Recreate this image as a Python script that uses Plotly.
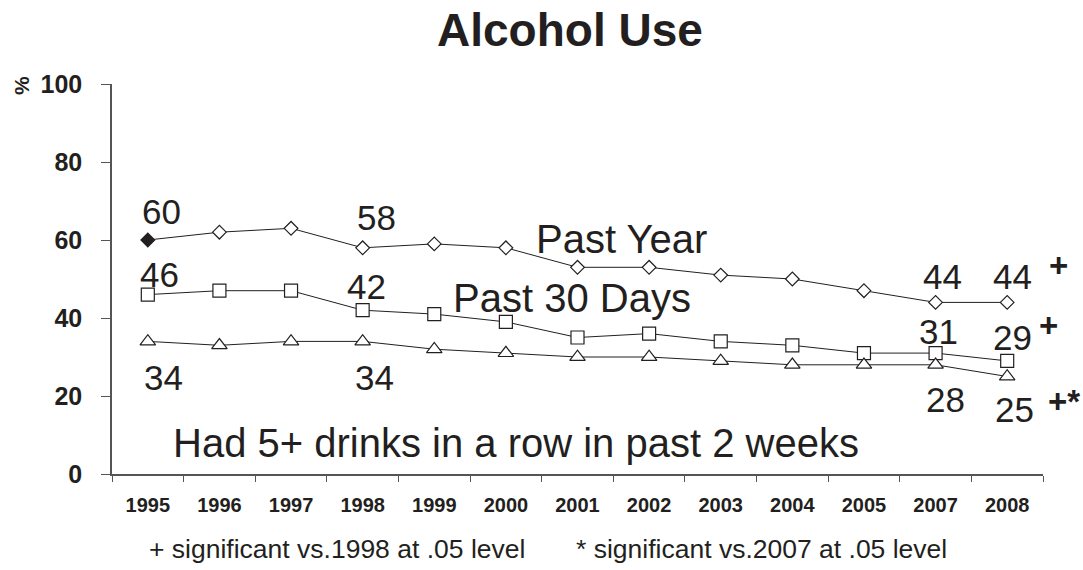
import plotly.graph_objects as go

years = ["1995", "1996", "1997", "1998", "1999", "2000", "2001",
         "2002", "2003", "2004", "2005", "2007", "2008"]
past_year = [60, 62, 63, 58, 59, 58, 53, 53, 51, 50, 47, 44, 44]
past_30_days = [46, 47, 47, 42, 41, 39, 35, 36, 34, 33, 31, 31, 29]
binge = [34, 33, 34, 34, 32, 31, 30, 30, 29, 28, 28, 28, 25]
y_ticks = [0, 20, 40, 60, 80, 100]

FONT = "Liberation Sans, Arial, sans-serif"
INK = "#231f20"

fig = go.Figure()

line_style = dict(color=INK, width=1)
fig.add_trace(go.Scatter(
    x=years, y=past_year, mode="lines+markers", line=line_style,
    marker=dict(symbol="diamond", size=10.5,
                color=[INK] + ["white"] * (len(years) - 1),
                line=dict(color=INK, width=1.2)),
    showlegend=False, cliponaxis=False))
fig.add_trace(go.Scatter(
    x=years, y=past_30_days, mode="lines+markers", line=line_style,
    marker=dict(symbol="square", size=13, color="white",
                line=dict(color=INK, width=1.2)),
    showlegend=False, cliponaxis=False))
fig.add_trace(go.Scatter(
    x=years, y=binge, mode="lines+markers", line=line_style,
    marker=dict(symbol="triangle-up", size=13.5, color="white",
                line=dict(color=INK, width=1.2)),
    showlegend=False, cliponaxis=False))

ann = []


def num_label(idx, series, dy, dx=0.0):
    ann.append(dict(x=idx + dx, y=series[idx] + dy, xref="x", yref="y",
                    text=str(series[idx]), showarrow=False,
                    font=dict(family=FONT, size=35, color=INK),
                    xanchor="center", yanchor="middle"))


i98 = years.index("1998")
i07 = years.index("2007")
i08 = years.index("2008")

num_label(0, past_year, 7.3, 0.19)
num_label(i98, past_year, 7.8, 0.2)
num_label(i07, past_year, 6.6, 0.1)
num_label(i08, past_year, 6.6, 0.08)

num_label(0, past_30_days, 5.2, 0.17)
num_label(i98, past_30_days, 6.1, 0.06)
num_label(i07, past_30_days, 5.5, 0.04)
num_label(i08, past_30_days, 6.0, 0.08)

num_label(0, binge, -9.3, 0.22)
num_label(i98, binge, -9.3, 0.17)
num_label(i07, binge, -8.9, 0.14)
num_label(i08, binge, -8.5, 0.1)


def sig_mark(idx, yval, text, xshift):
    ann.append(dict(x=idx, y=yval, xref="x", yref="y", text=text,
                    showarrow=False, xshift=xshift,
                    font=dict(family=FONT, size=33, color=INK, weight="bold"),
                    xanchor="center", yanchor="middle"))


sig_mark(i08, past_year[i08] + 9.5, "+", 51)
sig_mark(i08, past_30_days[i08] + 9.2, "+", 41)
sig_mark(i08, binge[i08] - 6.5, "+*", 57)

series_font = dict(family=FONT, size=40, color=INK)
ann.append(dict(x=6.62, y=60.3, xref="x", yref="y", text="Past Year",
                showarrow=False, font=series_font))
ann.append(dict(x=5.92, y=45.1, xref="x", yref="y", text="Past 30 Days",
                showarrow=False, font=series_font))
ann.append(dict(x=5.14, y=8.0, xref="x", yref="y",
                text="Had 5+ drinks in a row in past 2 weeks",
                showarrow=False, font=series_font))

ann.append(dict(x=0.492, y=1.0, xref="paper", yref="paper", yshift=54,
                text="<b>Alcohol Use</b>", showarrow=False,
                font=dict(family=FONT, size=46, color=INK),
                xanchor="center", yanchor="middle"))

ann.append(dict(x=-0.098, y=0.997, xref="paper", yref="paper",
                text="<b>%</b>", textangle=-90, showarrow=False,
                font=dict(family=FONT, size=21, color=INK),
                xanchor="center", yanchor="middle"))

foot_font = dict(family=FONT, size=26.5, color=INK)
ann.append(dict(x=0.2417, y=-0.193, xref="paper", yref="paper",
                text="+ significant vs.1998 at .05 level", showarrow=False,
                font=foot_font, xanchor="center", yanchor="middle"))
ann.append(dict(x=0.698, y=-0.193, xref="paper", yref="paper",
                text="* significant vs.2007 at .05 level", showarrow=False,
                font=foot_font, xanchor="center", yanchor="middle"))

fig.update_layout(
    width=1083, height=570,
    margin=dict(l=112, r=40, t=84, b=96),
    paper_bgcolor="white", plot_bgcolor="white",
    annotations=ann,
    font=dict(family=FONT, color=INK),
    xaxis=dict(type="category", categoryorder="array", categoryarray=years,
               range=[-0.5, len(years) - 0.5], tickson="boundaries",
               ticks="outside", ticklen=6, tickcolor="#555", tickwidth=1.2,
               showline=True, linecolor="#555", linewidth=1.5,
               showgrid=False, zeroline=False, ticklabelstandoff=12,
               tickfont=dict(family=FONT, size=20, color=INK, weight="bold")),
    yaxis=dict(range=[0, 100], tickvals=y_ticks, ticks="outside", ticklen=9,
               tickcolor="#555", tickwidth=1.2,
               showline=True, linecolor="#555", linewidth=1.5,
               showgrid=False, zeroline=False, ticklabelstandoff=14,
               tickfont=dict(family=FONT, size=25, color=INK, weight="bold")),
)

fig.write_html(
    "out.html",
    config={"displayModeBar": False},
    post_script="document.body.style.margin='0';"
                "document.body.style.overflow='hidden';",
)
